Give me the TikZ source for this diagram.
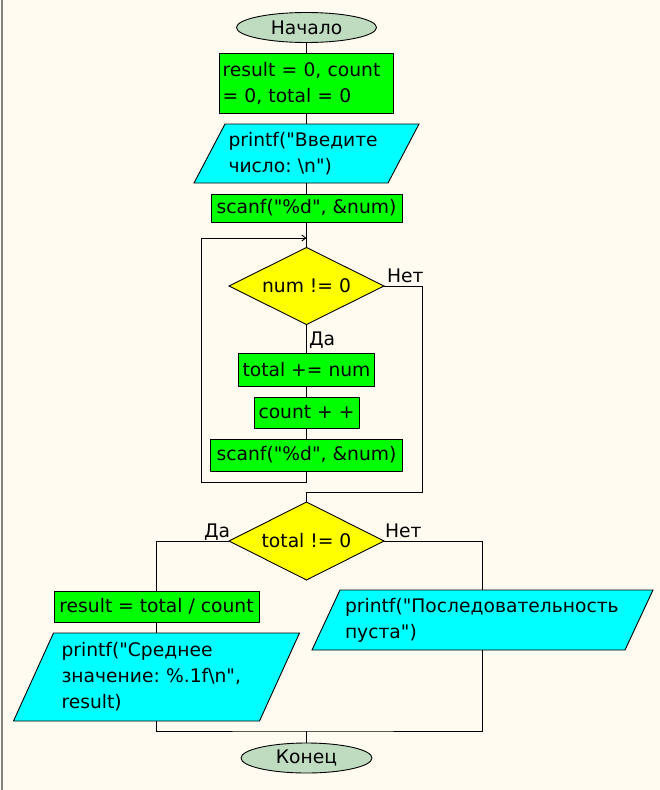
\documentclass[tikz,border=0pt]{standalone}
\usepackage{fontspec}
\setmainfont{DejaVu Sans}[Ligatures=TeXOff]
\usetikzlibrary{shapes.geometric,arrows.meta}
\definecolor{cream}{HTML}{FFFBF0}
\definecolor{money}{HTML}{C0DCC0}
\definecolor{limeg}{HTML}{00FF00}
\definecolor{aqua}{HTML}{00FFFF}
\definecolor{yel}{HTML}{FFFF00}
\definecolor{edgegray}{HTML}{808080}
\pgfdeclarelayer{back}\pgfdeclarelayer{bg}\pgfsetlayers{back,bg,main}
\newcommand\fsz{\fontsize{18.7}{26}\selectfont}
\newcommand\dq{\symbol{34}}
\frenchspacing
\begin{document}
\begin{tikzpicture}[x=1pt,y=-1pt,
  every node/.style={font=\fsz, inner sep=0pt, outer sep=0pt, text=black},
  proc/.style={draw=black, fill=limeg, line width=0.9pt},
  term/.style={ellipse, draw=black, fill=money, line width=0.9pt, minimum width=140, minimum height=30},
  dec/.style={diamond, aspect=2, draw=black, fill=yel, line width=0.9pt, minimum width=155, minimum height=77},
  io/.style={align=left},
  iofill/.style={draw=black, fill=aqua, line width=0.9pt},
  conn/.style={draw=black, line width=0.9pt},
  lbl/.style={anchor=base west},
]
\useasboundingbox (0,0) rectangle (660,790);
\begin{pgfonlayer}{back}
  \fill[cream] (0,0) rectangle (660,790);
  \draw[edgegray, line width=1.5pt] (2,0) -- (2,790);
\end{pgfonlayer}

\node[term] (start) at (306.5,27.5) {Начало};
\node[proc, minimum width=174, minimum height=60, text width=168, inner xsep=3, align=left] (init) at (306.5,83) {result = 0, count\\= 0, total = 0};
\node[io, minimum height=59, text width=156, inner xsep=19] (in1) at (306.5,153.5) {printf(\dq{}Введите\\число: \textbackslash n\dq{})};
\node[proc, minimum width=191, minimum height=28] (rd1) at (306.5,208) {scanf(\dq{}\%d\dq{}, \&num)};
\node[dec] (d1) at (306.5,286) {num != 0};
\node[proc, minimum width=136, minimum height=33] (add) at (306.5,369.5) {total += num};
\node[proc, minimum width=105, minimum height=31] (cnt) at (306.5,412.5) {count + +};
\node[proc, minimum width=192, minimum height=32] (rd2) at (306.5,455) {scanf(\dq{}\%d\dq{}, \&num)};
\node[dec, minimum height=78] (d2) at (306.5,541) {total != 0};
\node[proc, minimum width=205, minimum height=31] (res) at (156.5,606.5) {result = total / count};
\node[io, minimum height=88, text width=190, inner xsep=28, align=left] (out1) at (156.5,677) {printf(\dq{}Среднее\\значение: \%.1f\textbackslash n\dq{},\\result)};
\node[io, minimum height=60, text width=275, inner xsep=19] (out2) at (482.5,620) {printf(\dq{}Последовательность\\пуста\dq{})};
\node[term, minimum width=131] (fin) at (306.5,758) {Конец};

\begin{pgfonlayer}{bg}
  \draw[iofill] ([xshift=15.5]in1.north west) -- ([xshift=15.5]in1.north east) -- ([xshift=-15.5]in1.south east) -- ([xshift=-15.5]in1.south west) -- cycle;
  \draw[iofill] ([xshift=20]out1.north west) -- ([xshift=20]out1.north east) -- ([xshift=-20]out1.south east) -- ([xshift=-20]out1.south west) -- cycle;
  \draw[iofill] ([xshift=14]out2.north west) -- ([xshift=14]out2.north east) -- ([xshift=-14]out2.south east) -- ([xshift=-14]out2.south west) -- cycle;
\end{pgfonlayer}

\draw[conn] (start.south) -- (init.north);
\draw[conn] (init.south) -- (in1.north);
\draw[conn] (in1.south) -- (rd1.north);
\draw[conn] (rd1.south) -- (d1.north);
\draw[conn] (d1.south) -- (add.north);
\draw[conn] (add.south) -- (cnt.north);
\draw[conn] (cnt.south) -- (rd2.north);
\coordinate (lb) at (201,482);
\coordinate (lt) at (201,238);
\draw[conn, -{Straight Barb[length=4pt,width=6pt]}] (rd2.south) |- (lb) -- (lt) -- (lt -| d1.north);
\coordinate (nr) at (422,492);
\draw[conn] (d1.east) -| (nr) -- (nr -| d2.north) -- (d2.north);
\draw[conn] (d2.west) -| (res.north);
\draw[conn] (d2.east) -| (out2.north);
\draw[conn] (res.south) -- (out1.north);
\coordinate (jn) at (306.5,731);
\draw[conn] (out1.south) |- (jn) -| (out2.south);
\draw[conn] (jn) -- (fin.north);

\node[lbl] (l1) at (387,282) {Нет};
\node[lbl] (l2) at (309,345) {Да};
\node[lbl] (l3) at (204,537) {Да};
\node[lbl] (l4) at (385,537) {Нет};
\end{tikzpicture}
\end{document}
